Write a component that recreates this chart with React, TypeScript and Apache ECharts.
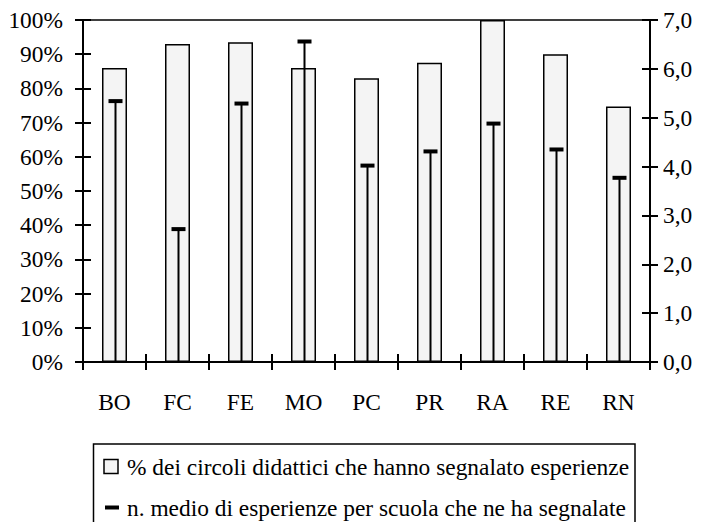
import React, { useEffect, useRef } from "react";
import * as echarts from "echarts";

const categories = ["BO", "FC", "FE", "MO", "PC", "PR", "RA", "RE", "RN"];
const pctCircoli = [0.86, 0.93, 0.935, 0.86, 0.83, 0.875, 1.0, 0.9, 0.747];
const mediaEsperienze = [5.34, 2.72, 5.29, 6.56, 4.02, 4.31, 4.88, 4.35, 3.77];
const legendLabels = [
  "% dei circoli didattici che hanno segnalato esperienze",
  "n. medio di esperienze per scuola che ne ha segnalate",
];

const FONT = "Liberation Serif";
const FS = 23.4;

export default function App() {
  const ref = useRef<HTMLDivElement>(null);
  useEffect(() => {
    if (!ref.current) return;
    const chart = echarts.init(ref.current, undefined, { renderer: "svg" });
    const axisLine = { show: true, lineStyle: { color: "#000", width: 2 } };
    const tickOut = { show: true, inside: false, length: 8, lineStyle: { color: "#000", width: 2 } };
    const tickIn = { show: true, inside: true, length: 8, lineStyle: { color: "#000", width: 2 } };
    chart.setOption({
      animation: false,
      backgroundColor: "#fff",
      textStyle: { fontFamily: FONT },
      grid: {
        left: 83,
        right: 52,
        top: 20,
        bottom: 160,
        show: true,
        borderColor: "#000",
        borderWidth: 1.5,
        backgroundColor: "transparent",
      },
      xAxis: [
        {
          type: "category",
          data: categories,
          position: "bottom",
          axisLine,
          axisTick: tickOut,
          axisLabel: { color: "#000", fontFamily: FONT, fontSize: FS, margin: 28 },
          splitLine: { show: false },
        },
        {
          type: "category",
          data: categories,
          position: "bottom",
          axisLine: { show: false },
          axisTick: tickIn,
          axisLabel: { show: false },
          splitLine: { show: false },
        },
      ],
      yAxis: [
        {
          type: "value",
          position: "left",
          min: 0,
          max: 1,
          interval: 0.1,
          axisLine,
          axisTick: tickOut,
          splitLine: { show: false },
          axisLabel: {
            color: "#000",
            fontFamily: FONT,
            fontSize: FS,
            margin: 20,
            formatter: (v: number) => `${Math.round(v * 100)}%`,
          },
        },
        {
          type: "value",
          position: "left",
          min: 0,
          max: 1,
          interval: 0.1,
          axisLine: { show: false },
          axisTick: tickIn,
          splitLine: { show: false },
          axisLabel: { show: false },
        },
        {
          type: "value",
          position: "right",
          min: 0,
          max: 7,
          interval: 1,
          axisLine,
          axisTick: tickOut,
          splitLine: { show: false },
          axisLabel: {
            color: "#000",
            fontFamily: FONT,
            fontSize: FS,
            margin: 13,
            formatter: (v: number) => v.toFixed(1).replace(".", ","),
          },
        },
        {
          type: "value",
          position: "right",
          min: 0,
          max: 7,
          interval: 1,
          axisLine: { show: false },
          axisTick: tickIn,
          splitLine: { show: false },
          axisLabel: { show: false },
        },
      ],
      series: [
        {
          name: legendLabels[0],
          type: "bar",
          xAxisIndex: 0,
          yAxisIndex: 0,
          data: pctCircoli,
          barWidth: 25,
          itemStyle: { color: "#f4f4f4", borderColor: "#000", borderWidth: 1.5 },
        },
        {
          name: legendLabels[1],
          type: "custom",
          xAxisIndex: 0,
          yAxisIndex: 2,
          data: mediaEsperienze.map((v, i) => [i, v]),
          encode: { x: 0, y: 1 },
          renderItem: (params: any, api: any) => {
            const i = api.value(0);
            const v = api.value(1);
            const p0 = api.coord([i, 0]);
            const p1 = api.coord([i, v]);
            const x = p0[0] + 1;
            return {
              type: "group",
              children: [
                {
                  type: "line",
                  shape: { x1: x, y1: p0[1], x2: x, y2: p1[1] },
                  style: { stroke: "#000", lineWidth: 2 },
                },
                {
                  type: "rect",
                  shape: { x: x - 7, y: p1[1] - 2, width: 14, height: 4 },
                  style: { fill: "#000" },
                },
              ],
            };
          },
          z: 5,
        },
      ],
      graphic: [
        {
          type: "rect",
          shape: { x: 93.5, y: 444, width: 541.5, height: 100 },
          style: { fill: "#fff", stroke: "#000", lineWidth: 1.5 },
          z: 1,
        },
        {
          type: "rect",
          shape: { x: 104, y: 459.5, width: 14, height: 14 },
          style: { fill: "#f4f4f4", stroke: "#000", lineWidth: 1.5 },
          z: 2,
        },
        {
          type: "text",
          x: 127,
          y: 466.5,
          style: {
            text: legendLabels[0],
            fontFamily: FONT,
            fontSize: FS,
            fill: "#000",
            verticalAlign: "middle",
          },
          z: 2,
        },
        {
          type: "rect",
          shape: { x: 105, y: 505.5, width: 14, height: 4 },
          style: { fill: "#000" },
          z: 2,
        },
        {
          type: "text",
          x: 127,
          y: 508,
          style: {
            text: legendLabels[1],
            fontFamily: FONT,
            fontSize: FS,
            fill: "#000",
            verticalAlign: "middle",
          },
          z: 2,
        },
      ],
    });
    return () => chart.dispose();
  }, []);
  return (
    <div
      ref={ref}
      style={{ position: "fixed", left: 0, top: 0, width: 702, height: 522 }}
    />
  );
}
